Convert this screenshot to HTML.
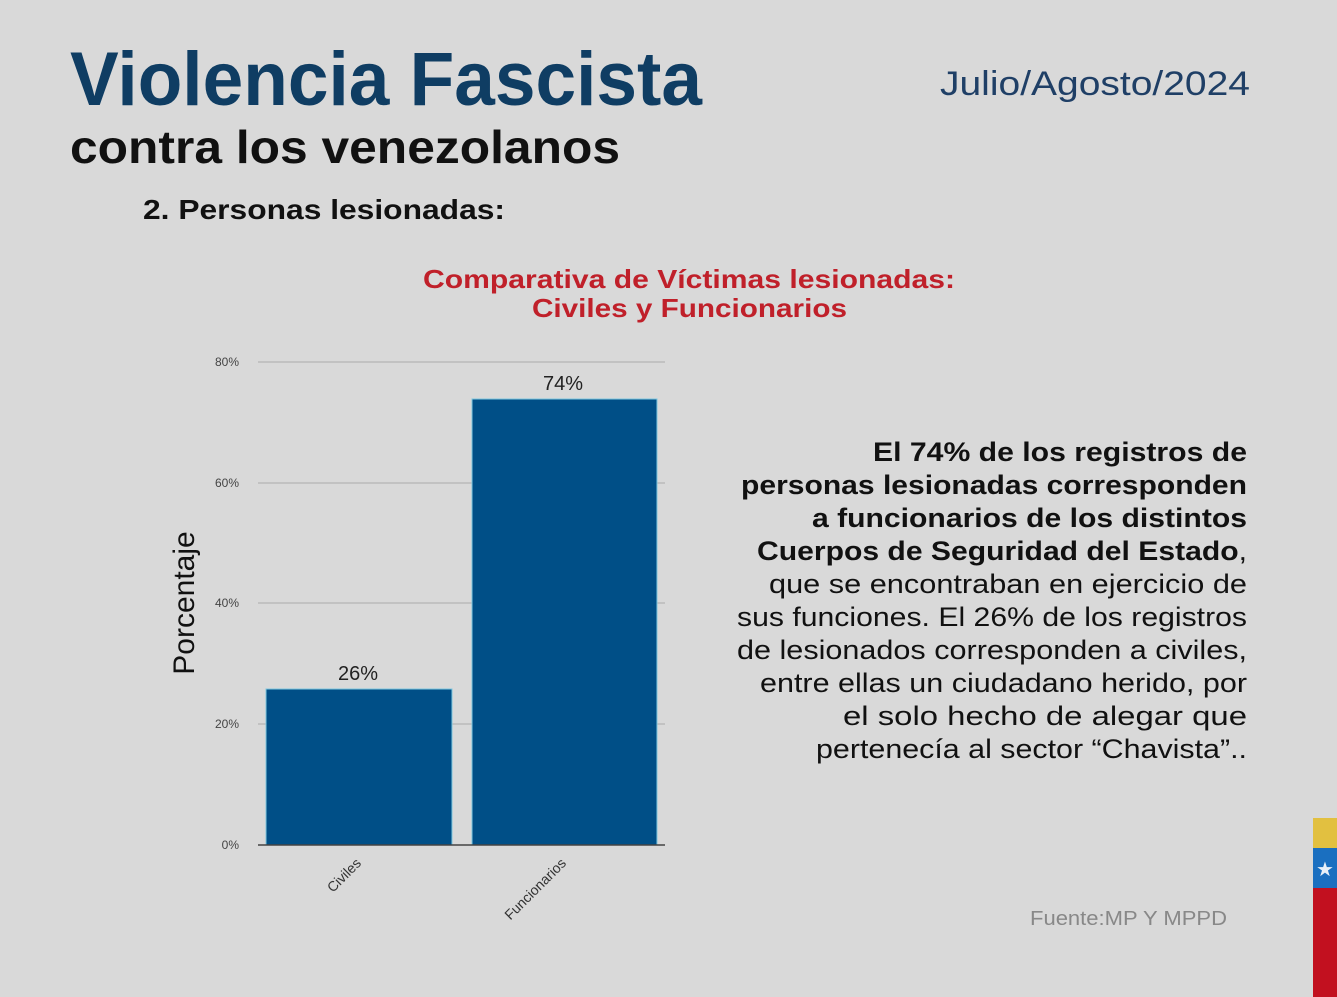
<!DOCTYPE html>
<html><head><meta charset="utf-8"><style>
html,body{margin:0;padding:0;background:#d9d9d9;}
svg{display:block;}
</style></head><body>
<svg width="1337" height="997" viewBox="0 0 1337 997" xmlns="http://www.w3.org/2000/svg" font-family="Liberation Sans, Arial, sans-serif">
<rect width="1337" height="997" fill="#d9d9d9"/>
<text x="70" y="105" font-size="76" font-weight="bold" fill="#0f3d63" textLength="632" lengthAdjust="spacingAndGlyphs">Violencia Fascista</text>
<text x="70" y="163" font-size="46" font-weight="bold" fill="#111" textLength="550" lengthAdjust="spacingAndGlyphs">contra los venezolanos</text>
<text x="143" y="219" font-size="28" font-weight="bold" fill="#111" textLength="362" lengthAdjust="spacingAndGlyphs">2. Personas lesionadas:</text>
<text x="940" y="95" font-size="34" fill="#1f3f66" textLength="310" lengthAdjust="spacingAndGlyphs">Julio/Agosto/2024</text>
<text x="423" y="288" font-size="26" font-weight="bold" fill="#c0202a" textLength="532" lengthAdjust="spacingAndGlyphs">Comparativa de Víctimas lesionadas:</text>
<text x="532" y="317" font-size="26" font-weight="bold" fill="#c0202a" textLength="315" lengthAdjust="spacingAndGlyphs">Civiles y Funcionarios</text>
<g stroke="#aaa" stroke-width="1">
<line x1="258" y1="362" x2="665" y2="362"/>
<line x1="258" y1="483" x2="665" y2="483"/>
<line x1="258" y1="603" x2="665" y2="603"/>
<line x1="258" y1="724" x2="665" y2="724"/>
</g>
<rect x="266" y="689" width="186" height="156" fill="#004f87" stroke="#7fc8e0" stroke-width="1"/>
<rect x="472" y="399" width="185" height="446" fill="#004f87" stroke="#7fc8e0" stroke-width="1"/>
<line x1="258" y1="845" x2="665" y2="845" stroke="#444" stroke-width="1.5"/>
<g font-size="12" fill="#444" text-anchor="end">
<text x="239" y="366">80%</text>
<text x="239" y="487">60%</text>
<text x="239" y="607">40%</text>
<text x="239" y="728">20%</text>
<text x="239" y="849">0%</text>
</g>
<text x="358" y="680" font-size="20" fill="#222" text-anchor="middle">26%</text>
<text x="563" y="390" font-size="20" fill="#222" text-anchor="middle">74%</text>
<text transform="translate(194,603) rotate(-90)" font-size="30" fill="#111" text-anchor="middle">Porcentaje</text>
<text transform="translate(362,864) rotate(-45)" font-size="14" fill="#333" text-anchor="end">Civiles</text>
<text transform="translate(567,864) rotate(-45)" font-size="14" fill="#333" text-anchor="end">Funcionarios</text>
<g font-size="27" fill="#111">
<text x="873" y="461" font-weight="bold" textLength="374" lengthAdjust="spacingAndGlyphs">El 74% de los registros de</text>
<text x="741" y="494" font-weight="bold" textLength="506" lengthAdjust="spacingAndGlyphs">personas lesionadas corresponden</text>
<text x="812" y="527" font-weight="bold" textLength="435" lengthAdjust="spacingAndGlyphs">a funcionarios de los distintos</text>
<text x="757" y="560" textLength="490" lengthAdjust="spacingAndGlyphs"><tspan font-weight="bold">Cuerpos de Seguridad del Estado</tspan>,</text>
<text x="769" y="593" textLength="478" lengthAdjust="spacingAndGlyphs">que se encontraban en ejercicio de</text>
<text x="737" y="626" textLength="510" lengthAdjust="spacingAndGlyphs">sus funciones. El 26% de los registros</text>
<text x="737" y="659" textLength="510" lengthAdjust="spacingAndGlyphs">de lesionados corresponden a civiles,</text>
<text x="760" y="692" textLength="487" lengthAdjust="spacingAndGlyphs">entre ellas un ciudadano herido, por</text>
<text x="843" y="725" textLength="404" lengthAdjust="spacingAndGlyphs">el solo hecho de alegar que</text>
<text x="816" y="758" textLength="431" lengthAdjust="spacingAndGlyphs">pertenecía al sector “Chavista”..</text>
</g>
<text x="1030" y="925" font-size="20" fill="#888" textLength="197" lengthAdjust="spacingAndGlyphs">Fuente:MP Y MPPD</text>
<rect x="1313" y="818" width="24" height="30" fill="#e2c040"/>
<rect x="1313" y="848" width="24" height="40" fill="#1a6fc0"/>
<text x="1325" y="876" font-size="20" fill="#e8f0f8" text-anchor="middle">★</text>
<rect x="1313" y="888" width="24" height="109" fill="#c2101f"/>
</svg>
</body></html>
